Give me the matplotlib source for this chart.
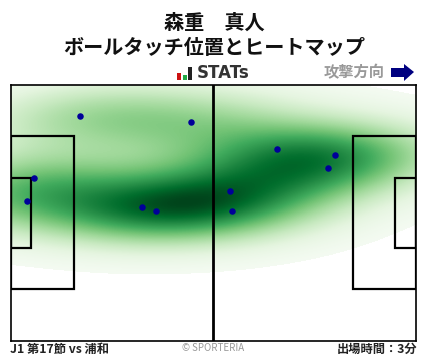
import matplotlib
matplotlib.use('Agg')
import matplotlib.pyplot as plt
import numpy as np
from matplotlib.font_manager import FontProperties
from matplotlib.patches import Rectangle, Polygon

plt.rcParams['font.family'] = ['Noto Sans CJK JP', 'DejaVu Sans']

# Touch positions in pitch metres (attacking to the right)
touch_x = [18.0, 46.7, 6.0, 4.2, 34.0, 37.7, 69.0, 84.1, 82.3, 56.9, 57.4]
touch_y = [59.7, 58.0, 43.1, 37.0, 35.4, 34.3, 50.8, 49.2, 45.8, 39.7, 34.3]

player = '森重\u3000真人'
subtitle = 'ボールタッチ位置とヒートマップ'
match_label = 'J1 第17節 vs 浦和'
time_label = '出場時間：3分'

W, H = 428, 359
pitch_l, pitch_w = 105.0, 68.0


def px_x(p):
    return p / W


def px_y(p):
    return 1 - p / H


fig = plt.figure(figsize=(W / 100, H / 100), dpi=100)
ax = fig.add_axes([px_x(10.5), px_y(340.5), 405.5 / W, 256 / H])

# Heat map: gaussian kde of the touches
xs = np.array(touch_x)
ys = np.array(touch_y)
gx, gy = np.meshgrid(np.linspace(0, pitch_l, 810), np.linspace(0, pitch_w, 510))
cov = np.cov(xs, ys) * len(xs) ** (-1 / 3) * 1.1
inv = np.linalg.inv(cov)
dens = np.zeros_like(gx)
for px, py in zip(xs, ys):
    dx = gx - px
    dy = gy - py
    dens += np.exp(-0.5 * (inv[0, 0] * dx**2 + 2 * inv[0, 1] * dx * dy + inv[1, 1] * dy**2))
dens = dens / dens.max()
dens = np.ma.masked_less(dens, 0.022)
ax.imshow(dens, origin='lower', extent=(0, pitch_l, 0, pitch_w), cmap='Greens',
          vmin=0.0, vmax=1.0, aspect='auto', interpolation='nearest', zorder=1)

# Pitch lines
lw = 1.6
ax.plot([pitch_l / 2 - 0.1] * 2, [0, pitch_w], color='black', lw=2, zorder=2)
for x0, w in [(0, 16.4), (pitch_l - 16.4, 16.4)]:
    ax.add_patch(Rectangle((x0, 13.6), w, 40.6, fill=False, ec='black', lw=lw, zorder=2))
for x0, w in [(0, 5.3), (pitch_l - 5.5, 5.5)]:
    ax.add_patch(Rectangle((x0, 24.7), w, 18.4, fill=False, ec='black', lw=lw, zorder=2))

ax.scatter(xs, ys, s=22, color='#000099', zorder=3, linewidths=0)

ax.set_xlim(0, pitch_l)
ax.set_ylim(0, pitch_w)
ax.set_xticks([])
ax.set_yticks([])
for s in ax.spines.values():
    s.set_linewidth(1.2)
    s.set_zorder(4)

# Titles
fig.text(px_x(214), px_y(22), player, ha='center', va='center', fontsize=14.5,
         fontweight='bold', color='#111111')
fig.text(px_x(214), px_y(47), subtitle, ha='center', va='center', fontsize=14.5,
         fontweight='bold', color='#111111')

# STATs logo
for x0, h, c in [(177, 7, '#cc1111'), (182.5, 5, '#22aa44'), (187.5, 13, '#222222')]:
    fig.add_artist(Rectangle((px_x(x0), px_y(80)), 4.2 / W, h / H, transform=fig.transFigure,
                             fc=c, ec='none'))
fig.text(px_x(196.5), px_y(73.5), 'STATs', ha='left', va='center', color='#333333',
         fontproperties=FontProperties(family='DejaVu Sans', weight='bold', size=12))

# Attack direction
fig.text(px_x(385), px_y(72), '攻撃方向', ha='right', va='center', fontsize=11,
         fontweight='bold', color='#999999')
arrow = [(391, 68), (404, 68), (404, 64), (414, 72), (404, 81), (404, 77), (391, 77)]
fig.add_artist(Polygon([(px_x(a), px_y(b)) for a, b in arrow], transform=fig.transFigure,
                       fc='#000080', ec='none'))

# Footer
fig.text(px_x(10), px_y(349.5), match_label, ha='left', va='center', fontsize=8.8,
         fontweight='bold', color='#222222')
fig.text(px_x(213), px_y(348), '© SPORTERIA', ha='center', va='center', fontsize=7,
         color='#999999')
fig.text(px_x(417.5), px_y(349.5), time_label, ha='right', va='center', fontsize=8.8,
         fontweight='bold', color='#222222')

fig.savefig('out.png', dpi=100)
